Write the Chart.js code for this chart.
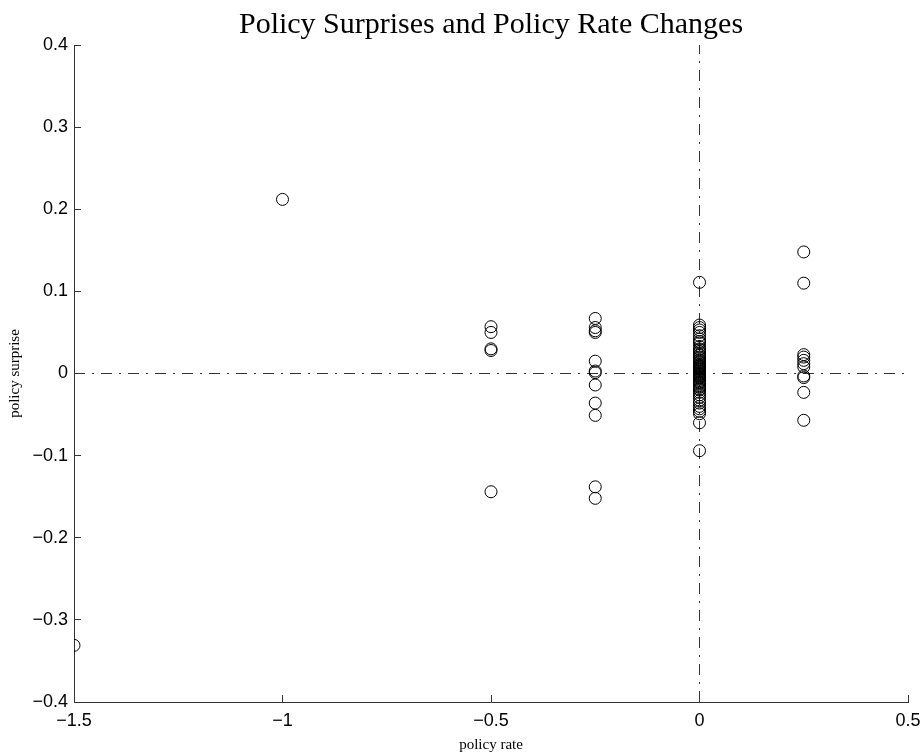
<!DOCTYPE html>
<html>
<head>
<meta charset="utf-8">
<script src="https://cdn.jsdelivr.net/npm/chart.js@4.4.1/dist/chart.umd.min.js"></script>
<style>
  html, body { margin: 0; padding: 0; background: #ffffff; }
  #wrap { width: 922px; height: 756px; }
</style>
</head>
<body>
<div id="wrap"><canvas id="c" width="922" height="756"></canvas></div>
<script>
// ---- data ----
const chartTitle = 'Policy Surprises and Policy Rate Changes';
const xAxisTitle = 'policy rate';
const yAxisTitle = 'policy surprise';

// policy rate change (x) and policy surprise (y), grouped by rate-change column
const rateMinus150 = [-0.331];
const rateMinus100 = [0.212];
const rateMinus050 = [0.057, 0.050, 0.030, 0.028, -0.144];
const rateMinus025 = [0.067, 0.056, 0.052, 0.050, 0.015, 0.003, 0.001, -0.014, -0.036, -0.051, -0.138, -0.152];
const rateZero = [0.111, 0.059, 0.056, 0.053, 0.050, 0.046, 0.042, 0.039, 0.037, 0.033, 0.030, 0.029, 0.027,
                  0.025, 0.023, 0.022, 0.020, 0.019, 0.017, 0.016, 0.014, 0.013, 0.011, 0.010, 0.009,
                  0.008, 0.007, 0.006, 0.005, 0.004, 0.003, 0.002, 0.001, 0.000, -0.001, -0.002, -0.003,
                  -0.004, -0.005, -0.006, -0.008, -0.010, -0.011, -0.012, -0.014, -0.016, -0.017, -0.019,
                  -0.020, -0.023, -0.026, -0.029, -0.033, -0.036, -0.040, -0.043, -0.046, -0.049, -0.060, -0.094];
const ratePlus025 = [0.148, 0.110, 0.023, 0.020, 0.016, 0.012, 0.008, -0.003, -0.005, -0.023, -0.057];

const rateColumns = [-1.5, -1.0, -0.5, -0.25, 0.0, 0.25];
const surpriseColumns = [rateMinus150, rateMinus100, rateMinus050, rateMinus025, rateZero, ratePlus025];

const xTicks = [-1.5, -1, -0.5, 0, 0.5];
const yTicks = [-0.4, -0.3, -0.2, -0.1, 0, 0.1, 0.2, 0.3, 0.4];

// reference lines (zero lines)
const zeroLineX = 0;
const zeroLineY = 0;

// ---- build points ----
const points = [];
rateColumns.forEach((r, i) => surpriseColumns[i].forEach(s => points.push({ x: r, y: s })));

function fmt(v) {
  const s = Math.round(v * 10) / 10;
  if (Math.abs(s) < 1e-9) return '0';
  return s < 0 ? '\u2212' + String(Math.abs(s)) : String(s);
}

const lineColor = '#333333';
const dashPattern = [11, 7, 2, 7];

// inward tick marks (MATLAB style), positions from the chart's own scales
const inwardTicks = {
  id: 'inwardTicks',
  afterDatasetsDraw(chart) {
    const ctx = chart.ctx;
    const xs = chart.scales.x, ys = chart.scales.y;
    const L = 7;
    ctx.save();
    ctx.strokeStyle = lineColor;
    ctx.lineWidth = 1;
    ctx.beginPath();
    xTicks.forEach(v => {
      const px = Math.round(xs.getPixelForValue(v) - 0.5) + 0.5;
      ctx.moveTo(px, ys.bottom);
      ctx.lineTo(px, ys.bottom - L);
    });
    yTicks.forEach(v => {
      const py = Math.round(ys.getPixelForValue(v) - 0.5) + 0.5;
      ctx.moveTo(xs.left, py);
      ctx.lineTo(xs.left + L, py);
    });
    ctx.stroke();
    ctx.restore();
  }
};

new Chart(document.getElementById('c'), {
  type: 'scatter',
  data: {
    datasets: [
      {
        type: 'line',
        data: [{ x: xTicks[0], y: zeroLineY }, { x: xTicks[xTicks.length - 1], y: zeroLineY }],
        borderColor: lineColor,
        borderWidth: 1,
        borderDash: dashPattern,
        pointRadius: 0,
        fill: false,
        order: 2
      },
      {
        type: 'line',
        data: [{ x: zeroLineX, y: yTicks[0] }, { x: zeroLineX, y: yTicks[yTicks.length - 1] }],
        borderColor: lineColor,
        borderWidth: 1,
        borderDash: dashPattern,
        pointRadius: 0,
        fill: false,
        order: 2
      },
      {
        data: points,
        pointStyle: 'circle',
        pointRadius: 6,
        pointBorderWidth: 1,
        pointBorderColor: '#000000',
        pointBackgroundColor: 'rgba(0,0,0,0)',
        order: 1
      }
    ]
  },
  options: {
    responsive: false,
    animation: false,
    devicePixelRatio: 1,
    events: [],
    layout: { padding: { left: 0, right: 14, top: 0, bottom: 0 } },
    plugins: {
      legend: { display: false },
      tooltip: { enabled: false },
      title: {
        display: true,
        fullSize: false,
        text: chartTitle,
        color: '#000000',
        font: { family: '"Liberation Serif", "Times New Roman", serif', size: 30, weight: 'normal' },
        padding: { top: 7, bottom: 2 }
      }
    },
    scales: {
      x: {
        type: 'linear',
        min: xTicks[0],
        max: xTicks[xTicks.length - 1],
        afterBuildTicks: s => { s.ticks = xTicks.map(v => ({ value: v })); },
        afterFit: s => { s.height = 54; s.paddingLeft = 0; s.paddingRight = 0; },
        grid: { display: false, drawTicks: false, tickLength: 0 },
        border: { display: true, color: lineColor, width: 1 },
        ticks: {
          color: '#000000',
          padding: 8,
          maxRotation: 0,
          autoSkip: false,
          font: { family: '"Liberation Sans", Arial, Helvetica, sans-serif', size: 18 },
          callback: v => fmt(v)
        },
        title: {
          display: true,
          text: xAxisTitle,
          color: '#000000',
          font: { family: '"Liberation Serif", "Times New Roman", serif', size: 15 },
          padding: { top: 0, bottom: 2 }
        }
      },
      y: {
        type: 'linear',
        min: yTicks[0],
        max: yTicks[yTicks.length - 1],
        afterBuildTicks: s => { s.ticks = yTicks.map(v => ({ value: v })); },
        afterFit: s => { s.width = 74; s.paddingTop = 0; s.paddingBottom = 0; },
        grid: { display: false, drawTicks: false, tickLength: 0 },
        border: { display: true, color: lineColor, width: 1 },
        ticks: {
          color: '#000000',
          padding: 6,
          autoSkip: false,
          font: { family: '"Liberation Sans", Arial, Helvetica, sans-serif', size: 18 },
          callback: v => fmt(v)
        },
        title: {
          display: true,
          text: yAxisTitle,
          color: '#000000',
          font: { family: '"Liberation Serif", "Times New Roman", serif', size: 15 },
          padding: { top: 6, bottom: 0 }
        }
      }
    }
  },
  plugins: [inwardTicks]
});
</script>
</body>
</html>
